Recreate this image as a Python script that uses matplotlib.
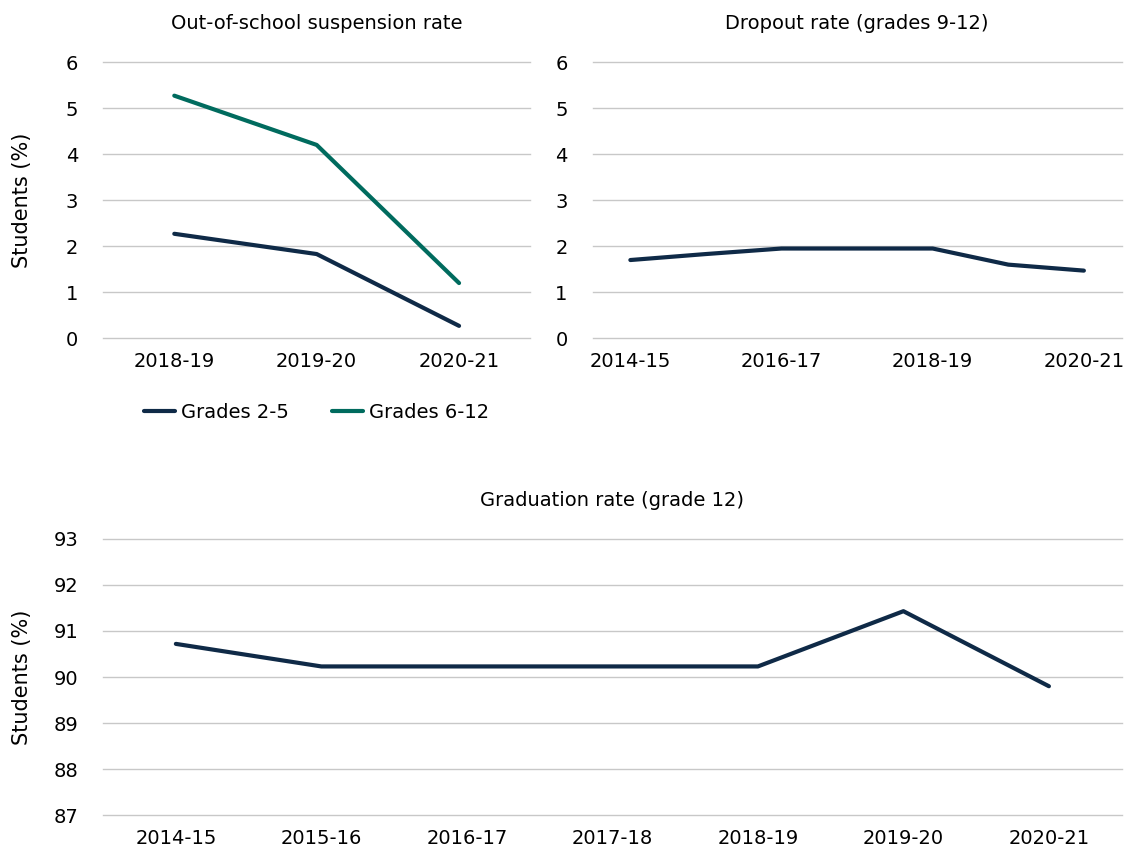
import numpy as np
import matplotlib.pyplot as plt

# DATA
susp_years = ['2018-19', '2019-20', '2020-21']
susp_g2_5 = [2.27, 1.83, 0.27]
susp_g6_12 = [5.27, 4.20, 1.20]

drop_years = ['2014-15', '2015-16', '2016-17', '2017-18', '2018-19', '2019-20', '2020-21']
drop_rate = [1.70, 1.83, 1.95, 1.95, 1.95, 1.60, 1.47]

grad_years = ['2014-15', '2015-16', '2016-17', '2017-18', '2018-19', '2019-20', '2020-21']
grad_rate = [90.72, 90.23, 90.23, 90.23, 90.23, 91.43, 89.80]

# SETTINGS
plt.rcParams['font.family'] = ['DejaVu Sans']
fs = 14
navy = '#0f2a47'
green = '#006b5e'
grid_col = '#c8c8c8'

fig = plt.figure(figsize=(11.33, 8.5), dpi=100)
ax1 = fig.add_axes([0.091, 0.602, 0.377, 0.325])
ax2 = fig.add_axes([0.523, 0.602, 0.467, 0.325])
ax3 = fig.add_axes([0.091, 0.041, 0.899, 0.325])


def style(ax, title):
    for s in ax.spines.values():
        s.set_visible(False)
    ax.grid(axis='y', color=grid_col, linewidth=1)
    ax.set_axisbelow(True)
    ax.tick_params(length=0, labelsize=fs, colors='black')
    ax.tick_params(axis='y', pad=18)
    ax.tick_params(axis='x', pad=10)
    ax.set_title(title, fontsize=fs, pad=24)


# Suspension
x1 = np.arange(len(susp_years))
ax1.plot(x1, susp_g2_5, color=navy, lw=3, solid_capstyle='round', label='Grades 2-5')
ax1.plot(x1, susp_g6_12, color=green, lw=3, solid_capstyle='round', label='Grades 6-12')
ax1.set_xticks(x1, susp_years)
ax1.set_xlim(-0.5, len(susp_years) - 0.5)
ax1.set_ylim(0, 6)
ax1.set_yticks(range(0, 7))
ax1.set_ylabel('Students (%)', fontsize=15)
ax1.yaxis.set_label_coords(-0.166, 0.5)
style(ax1, 'Out-of-school suspension rate')
ax1.legend(loc='upper center', bbox_to_anchor=(0.5, -0.17), ncol=2, frameon=False,
           fontsize=fs, handlelength=1.6, columnspacing=2.2, handletextpad=0.3)

# Dropout
x2 = np.arange(len(drop_years))
ax2.plot(x2, drop_rate, color=navy, lw=3, solid_capstyle='round')
ax2.set_xticks(x2[::2], drop_years[::2])
ax2.set_xlim(-0.5, len(drop_years) - 0.5)
ax2.set_ylim(0, 6)
ax2.set_yticks(range(0, 7))
style(ax2, 'Dropout rate (grades 9-12)')

# Graduation
x3 = np.arange(len(grad_years))
ax3.plot(x3, grad_rate, color=navy, lw=3, solid_capstyle='round')
ax3.set_xticks(x3, grad_years)
ax3.set_xlim(-0.5, len(grad_years) - 0.5)
ax3.set_ylim(87, 93)
ax3.set_yticks(range(87, 94))
ax3.set_ylabel('Students (%)', fontsize=15)
ax3.yaxis.set_label_coords(-0.07, 0.5)
style(ax3, 'Graduation rate (grade 12)')

# keep the edge gridlines fully visible
for ax in (ax1, ax2, ax3):
    for gl in ax.get_ygridlines():
        gl.set_clip_on(False)

plt.savefig('out.png', dpi=100)
